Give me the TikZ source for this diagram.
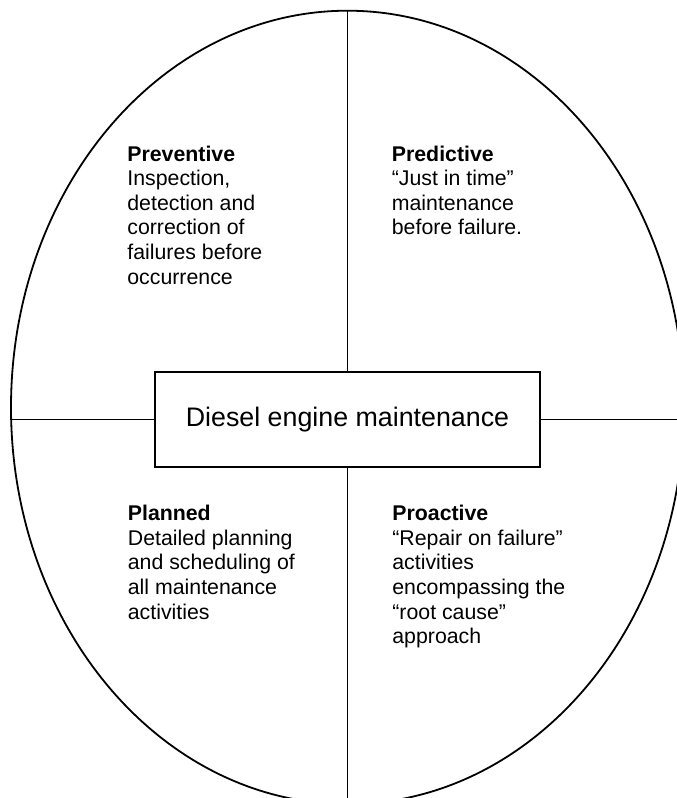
\documentclass[tikz,border=0pt]{standalone}
\usepackage{fontspec}
\setmainfont{Liberation Sans}
\usetikzlibrary{shapes.geometric,positioning}
\tikzset{
    oval/.style ={ellipse, draw, inner sep=0pt, minimum width=673pt, minimum height=793.4pt},
    box/.style = {rectangle, draw, inner sep=0pt, minimum width=385pt, minimum height=95pt,
                  font=\fontsize{26.8}{30}\selectfont},
    note/.style = {inner sep=0pt, align=left, anchor=north west,
                   font=\fontsize{21.3}{24.6}\selectfont}
}
\begin{document}
\begin{tikzpicture}[x=1pt,y=-1pt,line width=1.8pt]
    \useasboundingbox (0,0) rectangle (677,798);
    \node[oval] (eng) at (347.5,407.4) {};
    \node[box] (dem) at (347.5,419.5) {Diesel engine maintenance};

    \node[note] (prev) at (126.5,144.8) {\textbf{Preventive}\\Inspection,\\detection and\\correction of\\failures before\\occurrence};
    \node[note] (pred) at (391,144.8) {\textbf{Predictive}\\“Just in time”\\maintenance\\before failure.};
    \node[note] (plan) at (127,504.3) {\textbf{Planned}\\Detailed planning\\and scheduling of\\all maintenance\\activities};
    \node[note] (proa) at (391.5,504.3) {\textbf{Proactive}\\“Repair on failure”\\activities\\encompassing the\\“root cause”\\approach};

    \draw (dem.north) -- (eng.north);
    \draw (dem.south) -- (eng.south);
    \draw (dem.west) -- (dem.west -| eng.west);
    \draw (dem.east) -- (dem.east -| eng.east);
\end{tikzpicture}
\end{document}
